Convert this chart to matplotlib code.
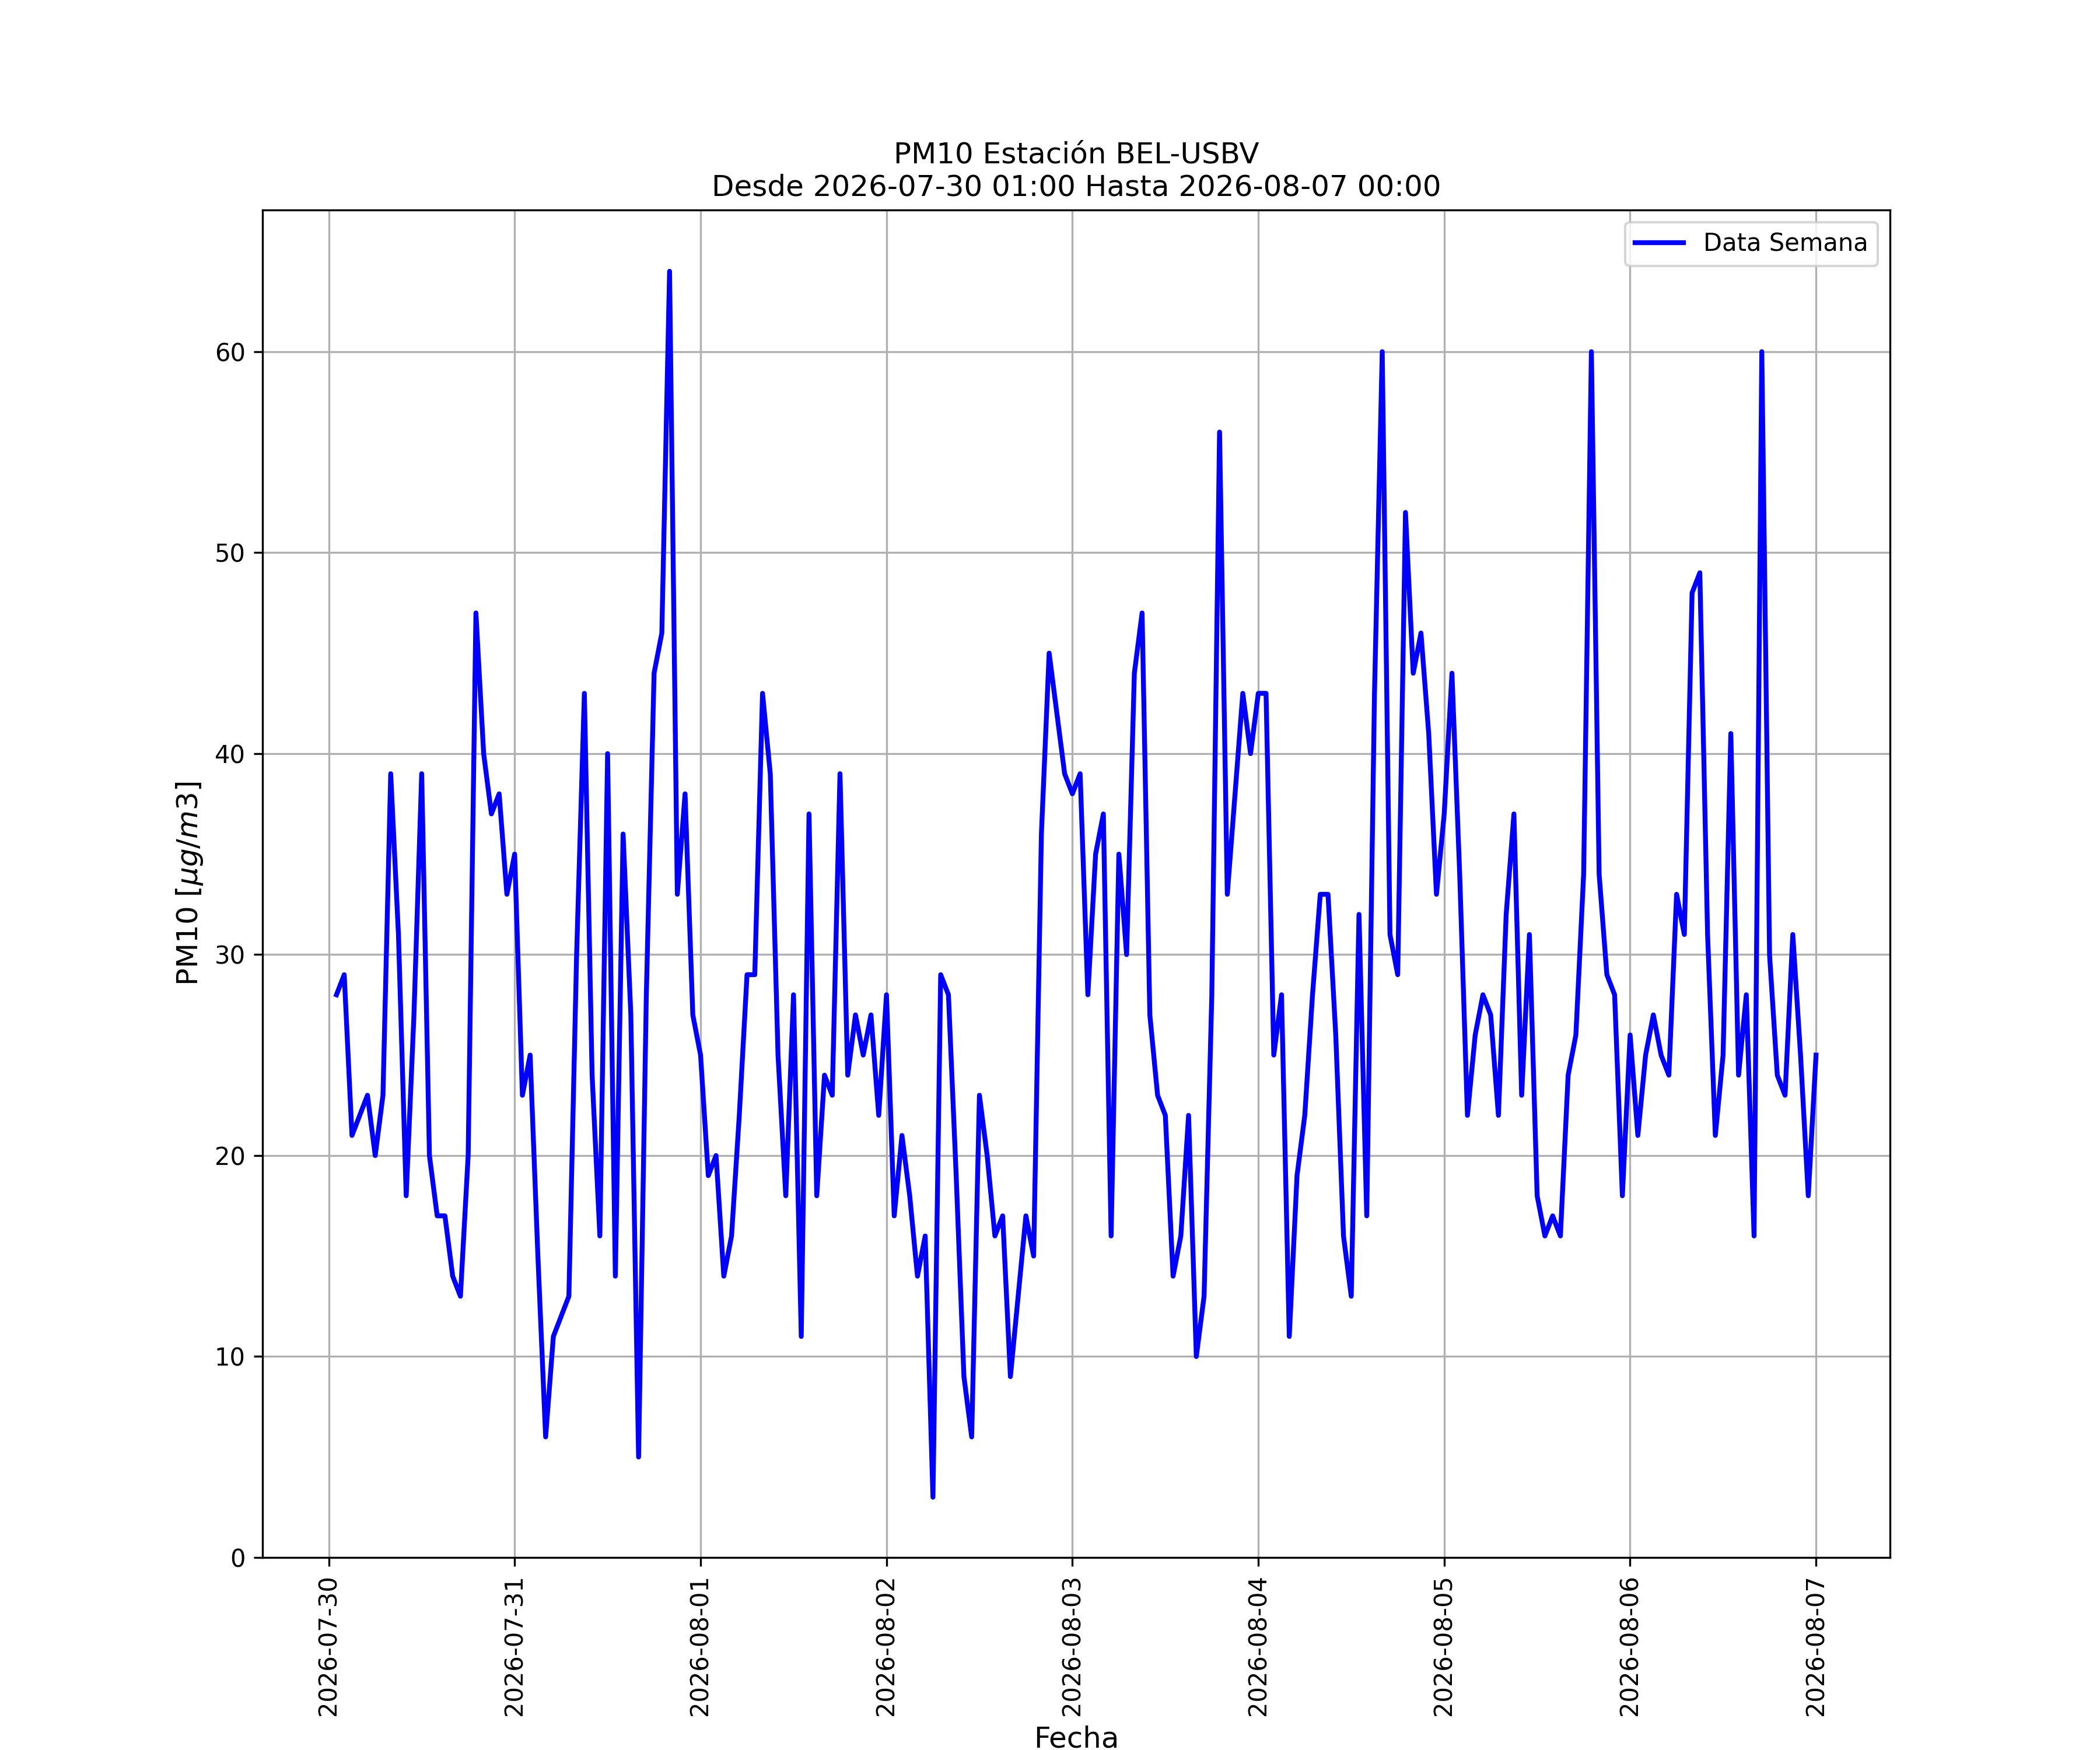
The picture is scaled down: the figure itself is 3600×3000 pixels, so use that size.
import matplotlib
matplotlib.use("Agg")
import matplotlib.pyplot as plt
import matplotlib.dates as mdates
import pandas as pd
import numpy as np

# Hourly PM10 values
day_0730 = [28, 29, 21, 22, 23, 20, 23, 39, 31, 18, 27, 39, 20, 17, 17, 14, 13, 20, 47, 40, 37, 38, 33]  # 01:00-23:00
day_0731 = [35, 23, 25, 15, 6, 11, 12, 13, 30, 43, 24, 16, 40, 14, 36, 27, 5, 28, 44, 46, 64, 33, 38, 27]
day_0801 = [25, 19, 20, 14, 16, 22, 29, 29, 43, 39, 25, 18, 28, 11, 37, 18, 24, 23, 39, 24, 27, 25, 27, 22]
day_0802 = [28, 17, 21, 18, 14, 16, 3, 29, 28, 19, 9, 6, 23, 20, 16, 17, 9, 13, 17, 15, 36, 45, 42, 39]
day_0803 = [38, 39, 28, 35, 37, 16, 35, 30, 44, 47, 27, 23, 22, 14, 16, 22, 10, 13, 28, 56, 33, 38, 43, 40]
day_0804 = [43, 43, 25, 28, 11, 19, 22, 28, 33, 33, 26, 16, 13, 32, 17, 43, 60, 31, 29, 52, 44, 46, 41, 33]
day_0805 = [37, 44, 34, 22, 26, 28, 27, 22, 32, 37, 23, 31, 18, 16, 17, 16, 24, 26, 34, 60, 34, 29, 28, 18]
day_0806 = [26, 21, 25, 27, 25, 24, 33, 31, 48, 49, 31, 21, 25, 41, 24, 28, 16, 60, 30, 24, 23, 31, 25, 18]
day_0807 = [25]  # 00:00

pm10 = day_0730 + day_0731 + day_0801 + day_0802 + day_0803 + day_0804 + day_0805 + day_0806 + day_0807
start = "2026-07-30 01:00"
end = "2026-08-07 00:00"
fechas = pd.date_range(start, end, freq="h")

title = "PM10 Estación BEL-USBV\nDesde 2026-07-30 01:00 Hasta 2026-08-07 00:00"

fig, ax = plt.subplots(figsize=(12, 10), dpi=300)
ax.plot(fechas, pm10, color="blue", linewidth=2, label="Data Semana")
ax.set_ylim(bottom=0)
ax.xaxis.set_major_locator(mdates.DayLocator())
ax.xaxis.set_major_formatter(mdates.DateFormatter("%Y-%m-%d"))
plt.setp(ax.get_xticklabels(), rotation=90)
ax.grid(True)
ax.set_title(title, fontsize=12)
ax.set_xlabel("Fecha", fontsize=12)
ax.set_ylabel(r"PM10 [$\mu g/m3$]", fontsize=12)
ax.legend(loc="upper right")
fig.savefig("out.png", dpi=300)
